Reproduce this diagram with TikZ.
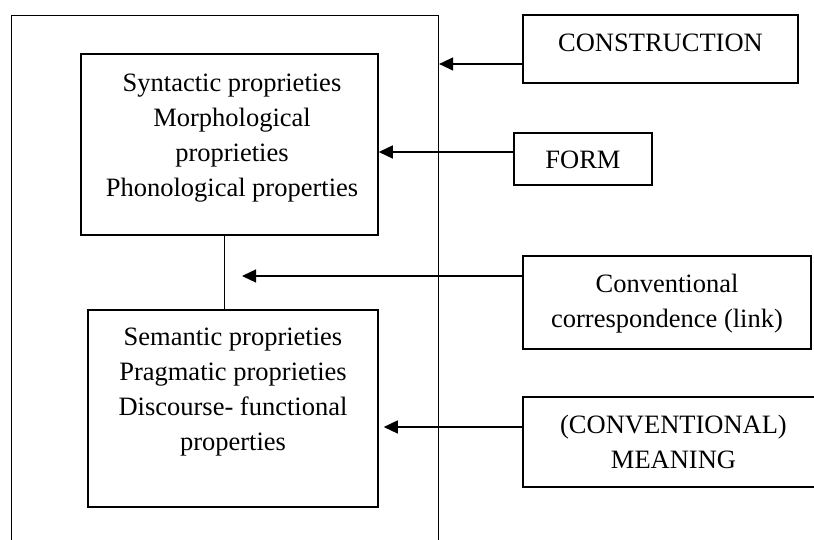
\documentclass[tikz,border=0pt]{standalone}
\usepackage{fontspec}
\setmainfont{Liberation Serif}
\usetikzlibrary{arrows.meta,calc}
\begin{document}
\begin{tikzpicture}[x=1pt,y=1pt,
  txt/.style={font=\fontsize{26.5}{35}\selectfont, align=center, inner sep=0pt},
  box/.style={draw, line width=1.5pt, inner sep=0pt},
  frame/.style={draw, line width=1.1pt, inner sep=0pt},
  conn/.style={line width=1.3pt},
  arr/.style={conn, -{Triangle[length=14pt,width=13pt]}}]
  \clip (0,0) rectangle (814,540);
  \fill[white] (0,0) rectangle (814,540);

  % construction frame, running off the bottom edge
  \node[frame, minimum width=427pt, minimum height=580pt, anchor=north west] (frame) at (11,525) {};

  % form and meaning poles
  \node[box, minimum width=297pt, minimum height=181pt] (formpole) at (229.5,395.5) {};
  \node[box, minimum width=290pt, minimum height=197pt] (meaningpole) at (233,131.5) {};
  \node[txt] (formtext) at (232,402) {Syntactic proprieties\\Morphological\\proprieties\\Phonological properties};
  \node[txt] (meaningtext) at (233,148) {Semantic proprieties\\Pragmatic proprieties\\Discourse- functional\\properties};

  % symbolic link between the poles
  \draw[conn] (formpole.south west) ++(144,0) coordinate (linktop) -- (linktop |- meaningpole.north);
  \coordinate (linktip) at (242,264);

  % labels on the right
  \node[box, minimum width=275pt, minimum height=68pt] (cons) at (660.5,491) {};
  \node[txt, anchor=base] (constext) at (660.5,488) {CONSTRUCTION};
  \node[box, minimum width=138pt, minimum height=52pt] (form) at (583,381) {};
  \node[txt, anchor=base] (formlabel) at (583,371.5) {FORM};
  \node[box, minimum width=288pt, minimum height=93pt] (link) at (667,237.5) {};
  \node[txt] (linklabel) at (667,236) {Conventional\\correspondence (link)};
  \node[box, minimum width=301pt, minimum height=90pt] (meaning) at (673.5,98) {};
  \node[txt] (meaninglabel) at (673.5,98) {(CONVENTIONAL)\\MEANING};

  % arrow start points on the label boxes
  \coordinate (consout) at ($(cons.west)+(0,-15)$);
  \coordinate (formout) at ($(form.west)+(0,7)$);
  \coordinate (meaningout) at ($(meaning.west)+(0,15)$);
  \coordinate (meaningtip) at ($(meaningpole.east)+(5,0)$);

  % arrows
  \draw[arr] (consout) -- (consout -| frame.east);
  \draw[arr] (formout) -- (formout -| formpole.east);
  \draw[arr] (linktip -| link.west) -- (linktip);
  \draw[arr] (meaningout) -- (meaningout -| meaningtip);
\end{tikzpicture}
\end{document}
